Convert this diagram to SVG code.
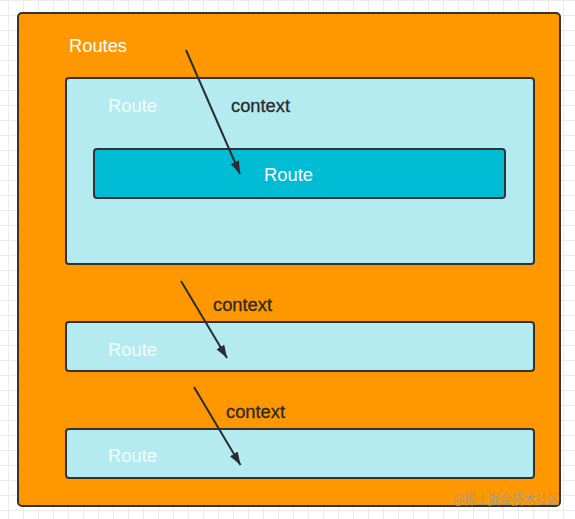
<svg xmlns="http://www.w3.org/2000/svg" width="575" height="519" viewBox="0 0 575 519">
  <defs>
    <pattern id="grid" x="8" y="0" width="15" height="15" patternUnits="userSpaceOnUse">
      <path d="M0.5,0 V15 M0,0.5 H15" fill="none" stroke="#ebebeb" stroke-width="1"/>
    </pattern>
    <marker id="arrow" markerUnits="userSpaceOnUse" markerWidth="14" markerHeight="10" refX="13" refY="4.5" orient="auto">
      <path d="M0,0 L13,4.5 L0,9 z" fill="#2a2d33"/>
    </marker>
    <style>
      .box { stroke: #333333; stroke-width: 2; }
      .outer { fill: #ff9800; }
      .light { fill: #b4ebf0; }
      .dark { fill: #00bcd4; }
      .label { font-family: "Liberation Sans", Arial, sans-serif; font-size: 18px; }
      .white { fill: #ffffff; }
      .pale { fill: #f2fcfd; }
      .ctx { fill: #2a2a2a; stroke: #2a2a2a; stroke-width: 0.3; }
      .conn { stroke: #2a2d33; stroke-width: 2; fill: none; marker-end: url(#arrow); }
      .wm { font-family: "Noto Sans CJK SC", "Liberation Sans", sans-serif; font-size: 13.5px; fill: #a39a8f; fill-opacity: 0.85; }
    </style>
  </defs>
  <rect width="575" height="519" fill="#ffffff"/>
  <rect width="575" height="519" fill="url(#grid)"/>

  <g id="routes">
    <rect class="box outer" x="18" y="13" width="542" height="493" rx="4"/>
    <text class="label white" x="69" y="52" textLength="58" lengthAdjust="spacingAndGlyphs">Routes</text>
  </g>

  <g id="route1">
    <rect class="box light" x="66" y="78" width="468" height="186" rx="3"/>
    <text class="label pale" x="108" y="111.5" textLength="49" lengthAdjust="spacingAndGlyphs">Route</text>
  </g>

  <g id="route1-child">
    <rect class="box dark" x="94" y="149" width="411" height="49" rx="3"/>
    <text class="label white" x="264" y="181" textLength="49" lengthAdjust="spacingAndGlyphs">Route</text>
  </g>

  <g id="route2">
    <rect class="box light" x="66" y="322" width="468" height="49" rx="3"/>
    <text class="label pale" x="108" y="355.5" textLength="49" lengthAdjust="spacingAndGlyphs">Route</text>
  </g>

  <g id="route3">
    <rect class="box light" x="66" y="429" width="468" height="49" rx="3"/>
    <text class="label pale" x="108" y="462" textLength="49" lengthAdjust="spacingAndGlyphs">Route</text>
  </g>

  <g id="connectors">
    <line class="conn" x1="186" y1="50" x2="240" y2="174"/>
    <line class="conn" x1="181" y1="281" x2="227" y2="358"/>
    <line class="conn" x1="194" y1="387" x2="240.5" y2="465"/>
    <text class="label ctx" x="231" y="111.5" textLength="59" lengthAdjust="spacingAndGlyphs">context</text>
    <text class="label ctx" x="213" y="311" textLength="59" lengthAdjust="spacingAndGlyphs">context</text>
    <text class="label ctx" x="226" y="417.5" textLength="59" lengthAdjust="spacingAndGlyphs">context</text>
  </g>

  <text class="wm" x="453" y="504" textLength="106" lengthAdjust="spacingAndGlyphs">@稀土掘金技术社区</text>
</svg>
